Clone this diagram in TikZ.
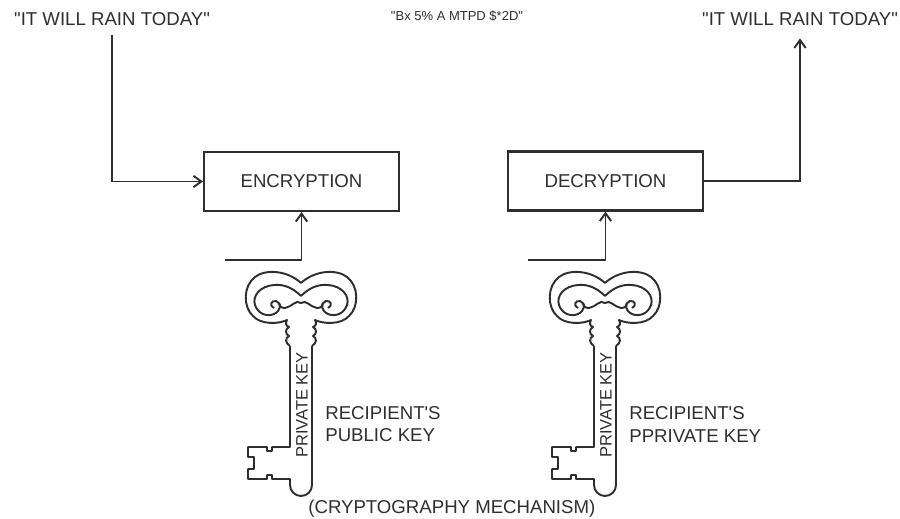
\documentclass[tikz,border=0pt]{standalone}
\usepackage{fontspec}
\setmainfont{Liberation Sans}[Ligatures=TeXOff]
\usepackage{tikz}
\usetikzlibrary{arrows.meta,positioning}

\definecolor{inkgray}{HTML}{2E2E2E}

\begin{document}
\begin{tikzpicture}[x=0.02cm, y=-0.02cm,
    every node/.style={text=inkgray, font=\fontsize{10.6}{12.6}\selectfont},
    box/.style={draw=inkgray, line width=1.2pt, minimum width=3.9cm, minimum height=1.18cm, inner sep=0pt},
    link/.style={draw=inkgray, line width=1.1pt, -{Straight Barb[length=4.5pt,width=6.5pt]}},
    keyline/.style={draw=inkgray, line width=1.1pt, line join=round}]
    \useasboundingbox (0,0) rectangle (900,518);

    % Plain text in and out, cipher text in the middle
    \node[anchor=base] (plainin) at (112,25) {"IT WILL RAIN TODAY"};
    \node[anchor=base] (plainout) at (800,25) {"IT WILL RAIN TODAY"};
    \node[anchor=base, font=\fontsize{7.4}{9}\selectfont] (cipher) at (457,20) {"Bx 5\% A MTPD \$*2D"};

    % Encryption and decryption boxes
    \node[box] (enc) at (301.5,181.5) {ENCRYPTION};
    \node[box] (dec) at (605.5,181) {DECRYPTION};

    \draw[link, shorten <=2pt] (plainin.south) |- (enc.west);
    \draw[link, shorten >=4pt] (dec.east) -| (plainout.south);

    % Key inputs
    \coordinate (keyin1) at (225,260);
    \coordinate (keyin2) at (528,260);
    \draw[link] (keyin1) -| (enc.south);
    \draw[link] (keyin2) -| (dec.south);

    % Keys
    \foreach \kx/\kname in {301/PUBLIC KEY, 605/PPRIVATE KEY} {
      \begin{scope}[shift={(\kx,0)}]
        % bow, drawn as two mirrored halves
        \foreach \s in {1,-1} {
          \draw[keyline, xscale=\s] (0,283) .. controls (14,270) and (36,269) .. (46,277)
            .. controls (58,286) and (58,307) .. (48,316)
            .. controls (40,325) and (22,324) .. (14,320)
            .. controls (16,323) and (15,326) .. (12,327)
            .. controls (16,329) and (16,334) .. (12,336)
            .. controls (16,338) and (16,343) .. (11,346);
          \draw[keyline, xscale=\s] (0,296) .. controls (8,288) and (17,284) .. (27,285)
            .. controls (41,286) and (49,296) .. (46,305)
            .. controls (43,314) and (34,317) .. (27,314)
            .. controls (20,311) and (19,303) .. (25,301)
            .. controls (30,300) and (32,306) .. (27,308);
          \draw[keyline, xscale=\s] (0,303) .. controls (5,299) and (9,307) .. (16,308)
            .. controls (20,308) and (22,306) .. (22,303);
        }
        % shaft and bit
        \draw[keyline] (11,346) -- (11,485) arc[start angle=0, end angle=180, radius=11]
          -- (-11,479) -- (-29,479) -- (-29,475) -- (-34,475) -- (-34,479) -- (-53,479)
          -- (-53,469) -- (-47,469) -- (-47,457) -- (-53,457) -- (-53,447)
          -- (-34,447) -- (-34,451) -- (-29,451) -- (-29,447) -- (-11,447) -- (-11,346);
        \node[rotate=90, font=\fontsize{9.4}{10}\selectfont] (stamp\kx) at (1,405) {PRIVATE KEY};
        \node[anchor=west, align=left, inner sep=0pt] (owner\kx) at (24,424.5) {RECIPIENT'S\\\kname};
      \end{scope}
    }

    \node[anchor=base west, inner sep=0pt] (caption) at (308,513) {(CRYPTOGRAPHY MECHANISM)};
\end{tikzpicture}
\end{document}
